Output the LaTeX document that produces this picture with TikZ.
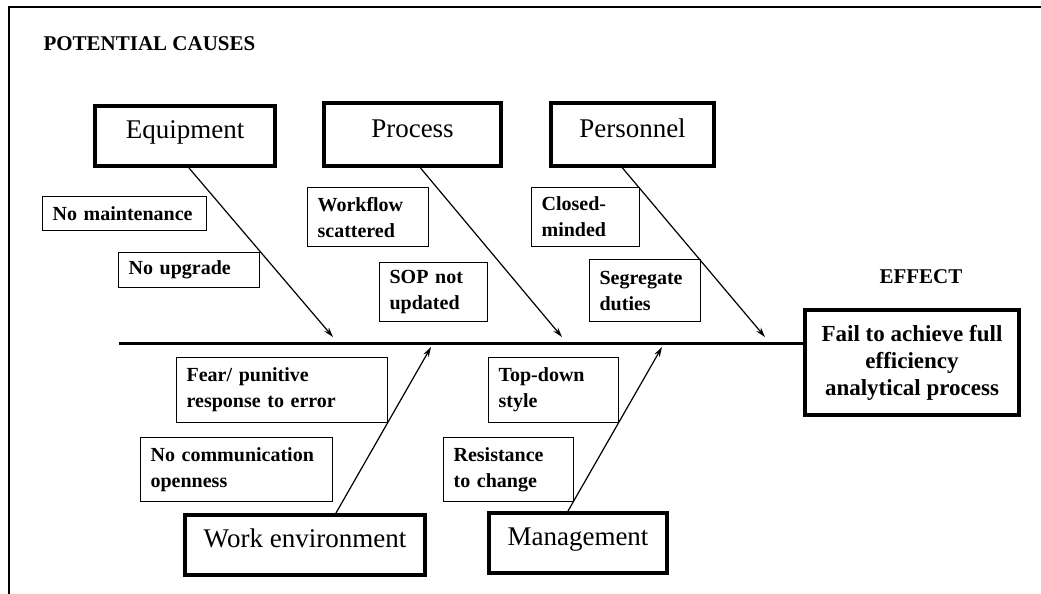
\documentclass[tikz,border=0pt]{standalone}
\usepackage{fontspec}
\setmainfont{Liberation Serif}
\usetikzlibrary{arrows.meta}
\begin{document}
\begin{tikzpicture}[x=1pt,y=-1pt,
  cause/.style={draw,line width=1.2pt,anchor=north west,align=left,inner xsep=10pt,inner ysep=0pt,
    font=\bfseries\fontsize{20}{26}\selectfont},
  cat/.style={draw,line width=4pt,anchor=north west,inner sep=0pt,text height=19pt,text depth=14pt,
    font=\fontsize{27}{30}\selectfont},
  branch/.style={line width=1.2pt,-{Stealth[length=10pt,width=6pt]}},
  heading/.style={font=\bfseries\fontsize{21}{24}\selectfont,anchor=base west}]
\useasboundingbox (0,0) rectangle (1041,594);
% frame
\draw[line width=1.8pt] (9,594) -- (9,7) -- (1041,7);
% headings
\node[heading] (pc) at (40,51) {POTENTIAL CAUSES};
\node[heading] (ef) at (876,283) {EFFECT};
% category boxes
\node[cat,minimum width=180pt,minimum height=60pt] (equip) at (93,104) {Equipment};
\node[cat,minimum width=177pt,minimum height=63pt] (proc) at (322,101) {Process};
\node[cat,minimum width=163pt,minimum height=63pt] (pers) at (549,101) {Personnel};
\node[cat,minimum width=240pt,minimum height=60pt] (work) at (183,513) {Work environment};
\node[cat,minimum width=178pt,minimum height=60pt] (mgmt) at (487,511) {Management};
% effect box
\node[draw,line width=4pt,anchor=north west,minimum width=214pt,minimum height=105pt,align=center,
  inner sep=0pt,font=\bfseries\fontsize{23}{27}\selectfont] (eff) at (803,308)
  {Fail to achieve full\\efficiency\\analytical process};
% cause boxes
\node[cause,text width=144pt,minimum height=34pt] (nomaint) at (42,196) {No maintenance};
\node[cause,text width=121pt,minimum height=35pt] (noupg) at (118,252) {No upgrade};
\node[cause,text width=101pt,minimum height=59pt] (workflow) at (307,187) {Workflow\\scattered};
\node[cause,text width=88pt,minimum height=59pt] (sop) at (379,262) {SOP not\\updated};
\node[cause,text width=88pt,minimum height=59pt] (closed) at (531,187) {Closed-\\minded};
\node[cause,text width=91pt,minimum height=62pt] (segr) at (589,259) {Segregate\\duties};
\node[cause,text width=191pt,minimum height=65pt] (fear) at (176,357) {Fear/ punitive\\response to error};
\node[cause,text width=172pt,minimum height=64pt] (nocomm) at (140,437) {No communication\\openness};
\node[cause,text width=110pt,minimum height=65pt] (topdown) at (488,357) {Top-down\\style};
\node[cause,text width=110pt,minimum height=64pt] (resist) at (443,437) {Resistance\\to change};
% spine
\coordinate (sp) at (119,343);
\draw[line width=3pt] (sp) -- (sp -| eff.west);
% arrow tips
\coordinate (t1) at (333,337);
\coordinate (t2) at (562,337);
\coordinate (t3) at (765,337);
\coordinate (t4) at (431,347);
\coordinate (t5) at (662,347);
% branches
\draw[branch] ([xshift=4pt]equip.south) -- (t1);
\draw[branch] ([xshift=8pt]proc.south) -- (t2);
\draw[branch] ([xshift=-10pt]pers.south) -- (t3);
\draw[branch] ([xshift=31pt]work.north) -- (t4);
\draw[branch] ([xshift=-10pt]mgmt.north) -- (t5);
\end{tikzpicture}
\end{document}
